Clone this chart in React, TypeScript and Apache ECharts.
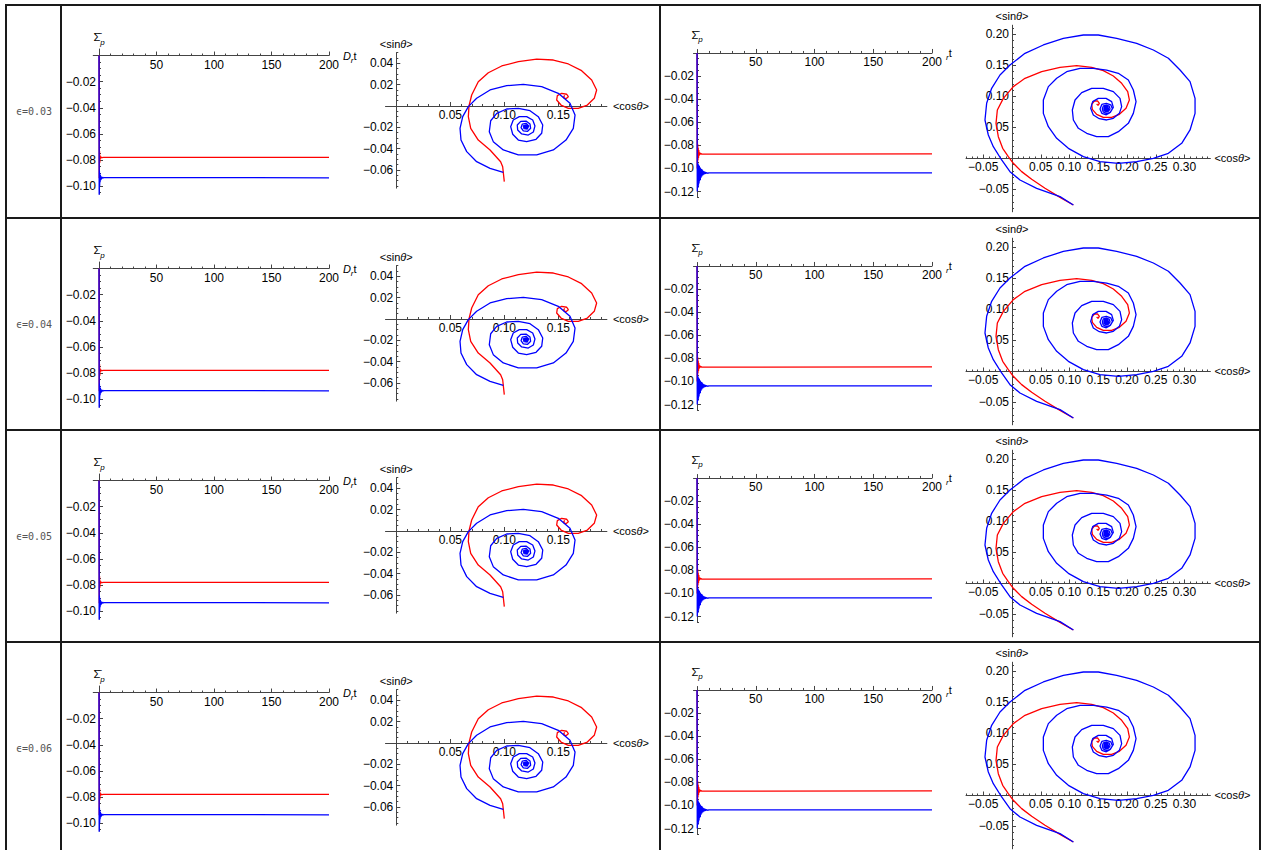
import React, { useEffect, useRef } from "react";
import * as echarts from "echarts";

// ---- Row labels ----
const epsilonLabels = ["ϵ=0.03", "ϵ=0.04", "ϵ=0.05", "ϵ=0.06"];

// ---- Tick labels ----
const timeTicks = [50, 100, 150, 200];
const leftSigmaTicks = [-0.02, -0.04, -0.06, -0.08, -0.1];
const rightSigmaTicks = [-0.02, -0.04, -0.06, -0.08, -0.1, -0.12];
const leftCosTicks = [0.05, 0.1, 0.15];
const leftSinTicks = [0.04, 0.02, -0.02, -0.04, -0.06];
const rightCosTicks = [-0.05, 0.05, 0.1, 0.15, 0.2, 0.25, 0.3];
const rightSinTicks = [0.2, 0.15, 0.1, 0.05, -0.05];

// ---- Time series: [D_r t, Σp] ----
const leftTimeRed = [[0, 0], [0.2, -0.094], [0.45, -0.073], [0.7, -0.082], [0.95, -0.0765], [1.3, -0.0788], [1.8, -0.0777], [2.5, -0.0782], [4, -0.078], [200, -0.078]];
const leftTimeBlue = [[0, 0], [0.15, -0.108], [0.35, -0.088], [0.55, -0.1], [0.75, -0.09], [0.95, -0.097], [1.2, -0.0915], [1.45, -0.0955], [1.7, -0.0925], [2, -0.0948], [2.3, -0.093], [2.7, -0.0942], [3.2, -0.0932], [3.8, -0.0938], [4.5, -0.0934], [200, -0.0936]];
const rightTimeRed = [[0, 0], [0.15, -0.1], [0.3, -0.075], [0.45, -0.096], [0.6, -0.079], [0.8, -0.093], [1, -0.082], [1.25, -0.091], [1.5, -0.084], [1.8, -0.089], [2.2, -0.086], [2.6, -0.088], [3, -0.087], [4, -0.0876], [200, -0.0874]];
const rightTimeBlue = [[0, 0], [0.2, -0.12], [0.45, -0.095], [0.7, -0.117], [0.95, -0.096], [1.2, -0.115], [1.45, -0.097], [1.7, -0.113], [1.95, -0.098], [2.2, -0.111], [2.5, -0.099], [2.8, -0.11], [3.1, -0.1], [3.4, -0.108], [3.7, -0.1005], [4, -0.107], [4.4, -0.101], [4.8, -0.106], [5.2, -0.102], [5.6, -0.1055], [6, -0.1025], [6.5, -0.105], [7, -0.103], [7.5, -0.1045], [8, -0.1035], [9, -0.1042], [10, -0.1038], [200, -0.1039]];

// ---- Phase portraits: [<cosθ>, <sinθ>] ----
const leftPhaseRed = [[0.1, -0.0709], [0.0985, -0.0569], [0.0966, -0.0522], [0.0868, -0.0412], [0.0759, -0.0319], [0.0689, -0.0209], [0.0667, -0.01], [0.0673, 0], [0.0698, 0.0103], [0.0759, 0.0228], [0.0852, 0.0312], [0.0976, 0.0375], [0.113, 0.0415], [0.13, 0.044], [0.1454, 0.0431], [0.1593, 0.0394], [0.1716, 0.0331], [0.1809, 0.0244], [0.1855, 0.015], [0.1833, 0.0072], [0.1769, 0.0009], [0.1685, -0.0022], [0.1593, -0.0022], [0.1525, 0.0009], [0.1485, 0.0056], [0.1491, 0.0097], [0.1531, 0.0119], [0.1578, 0.011], [0.1593, 0.0087], [0.1571, 0.0068], [0.1547, 0.0081], [0.1559, 0.01]];
const leftPhaseBlue = [[0.0991, -0.0622], [0.0868, -0.0584], [0.0744, -0.0522], [0.0652, -0.0428], [0.0599, -0.0319], [0.059, -0.0209], [0.0615, -0.01], [0.0667, -0.0006], [0.0744, 0.0072], [0.0868, 0.015], [0.1022, 0.019], [0.1176, 0.0203], [0.1346, 0.0181], [0.15, 0.0119], [0.1608, 0.0025], [0.1655, -0.0084], [0.1639, -0.0209], [0.1571, -0.0319], [0.1454, -0.0412], [0.13, -0.0459], [0.113, -0.0459], [0.0991, -0.0412], [0.0898, -0.0334], [0.0861, -0.0241], [0.0874, -0.0138], [0.093, -0.0069], [0.1022, -0.0028], [0.113, -0.0022], [0.1238, -0.0044], [0.1315, -0.01], [0.1356, -0.0178], [0.1346, -0.0256], [0.1294, -0.0312], [0.1207, -0.0334], [0.113, -0.0319], [0.1078, -0.0265], [0.1059, -0.0194], [0.1083, -0.0131], [0.1139, -0.01], [0.1207, -0.01], [0.1263, -0.0131], [0.1284, -0.0187], [0.1269, -0.0244], [0.1222, -0.0272], [0.1161, -0.0262], [0.1124, -0.0225], [0.112, -0.0178], [0.1152, -0.0144], [0.1201, -0.0141], [0.1238, -0.0169], [0.1244, -0.0209], [0.1216, -0.0237], [0.1176, -0.0234], [0.1155, -0.0203], [0.1167, -0.0169], [0.1201, -0.0162], [0.1226, -0.0187], [0.1213, -0.0216], [0.1183, -0.0213], [0.1176, -0.0187], [0.1198, -0.0178], [0.121, -0.0194], [0.1195, -0.02], [0.1198, -0.0188], [0.1212, -0.0182], [0.1218, -0.0194], [0.121, -0.0205], [0.1198, -0.0207], [0.1188, -0.0197], [0.1192, -0.0185], [0.1203, -0.0183], [0.1211, -0.0191], [0.1206, -0.02], [0.1196, -0.0198], [0.1195, -0.019], [0.1203, -0.0188], [0.1205, -0.0193], [0.12, -0.0195]];
const rightPhaseRed = [[0.1067, -0.075], [0.0835, -0.0627], [0.0574, -0.0481], [0.0342, -0.0336], [0.0168, -0.0212], [0.0023, -0.0078], [-0.0064, 0.003], [-0.0162, 0.0164], [-0.0238, 0.0352], [-0.0278, 0.0567], [-0.0255, 0.0782], [-0.0151, 0.097], [0.0023, 0.1159], [0.0226, 0.1293], [0.0516, 0.14], [0.0835, 0.147], [0.1125, 0.1497], [0.1386, 0.147], [0.1588, 0.1417], [0.1762, 0.1331], [0.1907, 0.1212], [0.2012, 0.1078], [0.2041, 0.0944], [0.1983, 0.0809], [0.1867, 0.0712], [0.1733, 0.0664], [0.1588, 0.0664], [0.1472, 0.0712], [0.1397, 0.0793], [0.1386, 0.0874], [0.1432, 0.0927], [0.149, 0.0927], [0.1519, 0.089], [0.1496, 0.0857], [0.1472, 0.0879]];
const rightPhaseBlue = [[0.1067, -0.075], [0.0835, -0.0616], [0.0429, -0.0481], [0.0139, -0.0347], [-0.0035, -0.0212], [-0.018, -0.0024], [-0.0325, 0.0191], [-0.0412, 0.0379], [-0.047, 0.0621], [-0.0441, 0.089], [-0.0354, 0.1132], [-0.0209, 0.1347], [-0.0035, 0.1508], [0.0226, 0.1696], [0.0545, 0.1831], [0.0893, 0.1938], [0.1241, 0.1992], [0.1501, 0.1992], [0.182, 0.1938], [0.2168, 0.1858], [0.2458, 0.175], [0.2719, 0.1616], [0.2922, 0.1427], [0.3096, 0.1239], [0.3183, 0.097], [0.3183, 0.0728], [0.3096, 0.046], [0.2951, 0.0245], [0.2719, 0.0083], [0.2458, 0.0003], [0.2168, -0.0051], [0.1849, -0.0078], [0.153, -0.0051], [0.1241, 0.003], [0.098, 0.0164], [0.0777, 0.0325], [0.0632, 0.0513], [0.0545, 0.0728], [0.0545, 0.0944], [0.0632, 0.1159], [0.0777, 0.1293], [0.0951, 0.14], [0.1183, 0.1454], [0.1414, 0.1454], [0.1646, 0.1427], [0.1849, 0.1374], [0.2023, 0.1266], [0.211, 0.1105], [0.2157, 0.0917], [0.211, 0.0728], [0.2023, 0.0567], [0.1849, 0.0433], [0.1675, 0.0352], [0.1472, 0.0352], [0.1299, 0.0406], [0.1154, 0.0487], [0.1067, 0.0621], [0.1049, 0.0782], [0.1096, 0.0944], [0.1212, 0.1062], [0.1386, 0.1132], [0.1588, 0.1132], [0.1762, 0.1078], [0.1878, 0.097], [0.1907, 0.0836], [0.1867, 0.0728], [0.1762, 0.0648], [0.1646, 0.0621], [0.1519, 0.0642], [0.1414, 0.0702], [0.1368, 0.0809], [0.1403, 0.0917], [0.1501, 0.097], [0.1635, 0.097], [0.1733, 0.0917], [0.1762, 0.0825], [0.1704, 0.0739], [0.164, 0.0705], [0.1562, 0.0729], [0.153, 0.08], [0.1562, 0.0871], [0.164, 0.089], [0.1718, 0.0866], [0.1745, 0.08], [0.1712, 0.0745], [0.164, 0.0725], [0.1585, 0.0752], [0.157, 0.08], [0.159, 0.085], [0.164, 0.0862], [0.169, 0.0845], [0.1705, 0.08], [0.168, 0.0765], [0.164, 0.0752], [0.1605, 0.077], [0.1597, 0.08], [0.161, 0.0832], [0.164, 0.0842], [0.1668, 0.0828], [0.168, 0.08], [0.1665, 0.0775], [0.164, 0.0768], [0.1618, 0.078], [0.1612, 0.08], [0.1625, 0.0822], [0.164, 0.0826], [0.1657, 0.0815], [0.1662, 0.08], [0.165, 0.0784], [0.164, 0.0781], [0.1628, 0.0788], [0.1625, 0.0803], [0.1635, 0.0814], [0.1648, 0.0812], [0.1652, 0.0798], [0.164, 0.079], [0.1633, 0.0798], [0.164, 0.0806], [0.1644, 0.08]];

// ---- Layout ----
const rowTops = [5, 218, 430, 642];
const RED = "#ff0000";
const BLUE = "#0000ff";
const AXIS = "#444444";
const FONT = "Liberation Sans";

function minorTicks(from: number, to: number, step: number, majors: number[]) {
  const out: number[] = [];
  const n = Math.round((to - from) / step);
  for (let i = 0; i <= n; i++) {
    const v = Math.round((from + i * step) * 10000) / 10000;
    if (Math.abs(v) < 1e-9) continue;
    if (majors.some((m) => Math.abs(m - v) < 1e-9)) continue;
    out.push(v);
  }
  return out;
}

const rich = {
  n: { fontFamily: FONT, fontSize: 11, color: "#000", lineHeight: 18, verticalAlign: "middle" },
  i: { fontFamily: FONT, fontSize: 11, fontStyle: "italic", color: "#000", lineHeight: 18, verticalAlign: "middle" },
  s: { fontFamily: FONT, fontSize: 8, fontStyle: "italic", color: "#000", lineHeight: 18, verticalAlign: "bottom" },
};

function fmt(dec: number) {
  return (v: number) => {
    const s = Math.abs(v).toFixed(dec);
    return v < -1e-12 ? "−" + s : s;
  };
}

type Panel = {
  left: number; width: number; top: number; height: number;
  xMin: number; xMax: number; yMin: number; yMax: number;
  xMajor: number[]; xMinor: number[]; yMajor: number[]; yMinor: number[];
  xDec: number; yDec: number;
  xName: string; yName: string; xGap: number; yGap: number;
  red: number[][]; blue: number[][];
};

const panels: Panel[] = [
  {
    left: 93.25, width: 235.75, top: 44, height: 145,
    xMin: -5, xMax: 200, yMin: -0.106, yMax: 0.005,
    xMajor: timeTicks, xMinor: minorTicks(0, 200, 10, timeTicks),
    yMajor: leftSigmaTicks, yMinor: minorTicks(-0.105, 0, 0.005, leftSigmaTicks),
    xDec: 0, yDec: 2,
    xName: "{i|D}{s|r}{n|t}", yName: "{n|Σ̄}{s|p}", xGap: 6, yGap: 3,
    red: leftTimeRed, blue: leftTimeBlue,
  },
  {
    left: 385.5, width: 221.4, top: 47.65, height: 135.5,
    xMin: -0.01, xMax: 0.195, yMin: -0.077, yMax: 0.05,
    xMajor: leftCosTicks, xMinor: minorTicks(0, 0.19, 0.01, leftCosTicks),
    yMajor: leftSinTicks, yMinor: minorTicks(-0.075, 0.05, 0.005, leftSinTicks),
    xDec: 2, yDec: 2,
    xName: "{n|<cos}{i|θ}{n|>}", yName: "{n|<sin}{i|θ}{n|>}", xGap: 6, yGap: 0,
    red: leftPhaseRed, blue: leftPhaseBlue,
  },
  {
    left: 693.5, width: 238.5, top: 44.5, height: 147.8,
    xMin: -3, xMax: 200, yMin: -0.125, yMax: 0.003,
    xMajor: timeTicks, xMinor: minorTicks(0, 200, 10, timeTicks),
    yMajor: rightSigmaTicks, yMinor: minorTicks(-0.125, 0, 0.005, rightSigmaTicks),
    xDec: 0, yDec: 2,
    xName: "{s|r}{n|t}", yName: "{n|Σ̄}{s|p}", xGap: 14, yGap: 6,
    red: rightTimeRed, blue: rightTimeBlue,
  },
  {
    left: 966, width: 244.4, top: 20.2, height: 186.6,
    xMin: -0.08, xMax: 0.345, yMin: -0.086, yMax: 0.215,
    xMajor: rightCosTicks, xMinor: minorTicks(-0.08, 0.34, 0.01, rightCosTicks),
    yMajor: rightSinTicks, yMinor: minorTicks(-0.08, 0.21, 0.01, rightSinTicks),
    xDec: 2, yDec: 2,
    xName: "{n|<cos}{i|θ}{n|>}", yName: "{n|<sin}{i|θ}{n|>}", xGap: 4, yGap: 0,
    red: rightPhaseRed, blue: rightPhaseBlue,
  },
];

function buildOption() {
  const grid: any[] = [];
  const xAxis: any[] = [];
  const yAxis: any[] = [];
  const series: any[] = [];
  rowTops.forEach((T) => {
    panels.forEach((p) => {
      const g = grid.length;
      const mainIdx = 2 * g;
      grid.push({ left: p.left, top: T + p.top, width: p.width, height: p.height });
      // axes cross at 0: move the bottom/left axes to the zero line with an offset
      const xOffset = -(p.height * (0 - p.yMin)) / (p.yMax - p.yMin);
      const yOffset = -(p.width * (0 - p.xMin)) / (p.xMax - p.xMin);
      const tickStyle = { color: AXIS, width: 1 };
      const labelStyle = { fontFamily: FONT, fontSize: 12, color: "#000", margin: 3 };
      xAxis.push({
        type: "value", gridIndex: g, position: "bottom", offset: xOffset, min: p.xMin, max: p.xMax,
        axisLine: { show: true, onZero: false, lineStyle: { color: AXIS, width: 1 } },
        axisTick: { show: true, inside: true, length: 4, customValues: p.xMajor, lineStyle: tickStyle },
        axisLabel: { show: true, customValues: p.xMajor, formatter: fmt(p.xDec), ...labelStyle },
        splitLine: { show: false },
        name: p.xName, nameLocation: "end", nameGap: p.xGap, nameTextStyle: { rich },
      });
      xAxis.push({
        type: "value", gridIndex: g, position: "bottom", offset: xOffset, min: p.xMin, max: p.xMax,
        axisLine: { show: false, onZero: false },
        axisTick: { show: true, inside: true, length: 2, customValues: p.xMinor, lineStyle: tickStyle },
        axisLabel: { show: false },
        splitLine: { show: false },
      });
      yAxis.push({
        type: "value", gridIndex: g, position: "left", offset: yOffset, min: p.yMin, max: p.yMax,
        axisLine: { show: true, onZero: false, lineStyle: { color: AXIS, width: 1 } },
        axisTick: { show: true, inside: true, length: 4, customValues: p.yMajor, lineStyle: tickStyle },
        axisLabel: { show: true, customValues: p.yMajor, formatter: fmt(p.yDec), ...labelStyle },
        splitLine: { show: false },
        name: p.yName, nameLocation: "end", nameGap: p.yGap, nameTextStyle: { rich },
      });
      yAxis.push({
        type: "value", gridIndex: g, position: "left", offset: yOffset, min: p.yMin, max: p.yMax,
        axisLine: { show: false, onZero: false },
        axisTick: { show: true, inside: true, length: 2, customValues: p.yMinor, lineStyle: tickStyle },
        axisLabel: { show: false },
        splitLine: { show: false },
      });
      series.push({
        type: "line", xAxisIndex: mainIdx, yAxisIndex: mainIdx, data: p.red,
        showSymbol: false, symbol: "none", silent: true, z: 3,
        lineStyle: { color: RED, width: 1.3 }, itemStyle: { color: RED },
      });
      series.push({
        type: "line", xAxisIndex: mainIdx, yAxisIndex: mainIdx, data: p.blue,
        showSymbol: false, symbol: "none", silent: true, z: 4,
        lineStyle: { color: BLUE, width: 1.3 }, itemStyle: { color: BLUE },
      });
    });
  });

  const lineStyle = { stroke: "#1a1a1a", lineWidth: 2 };
  const graphic: any[] = [
    { type: "line", shape: { x1: 6, y1: 5, x2: 1260, y2: 5 }, style: lineStyle },
    { type: "line", shape: { x1: 6, y1: 4, x2: 6, y2: 850 }, style: lineStyle },
    { type: "line", shape: { x1: 1260, y1: 4, x2: 1260, y2: 850 }, style: lineStyle },
    { type: "line", shape: { x1: 61, y1: 4, x2: 61, y2: 850 }, style: lineStyle },
    { type: "line", shape: { x1: 660, y1: 4, x2: 660, y2: 850 }, style: lineStyle },
  ];
  rowTops.slice(1).forEach((y) => {
    graphic.push({ type: "line", shape: { x1: 6, y1: y, x2: 1260, y2: y }, style: lineStyle });
  });
  epsilonLabels.forEach((t, i) => {
    graphic.push({
      type: "text", x: 34, y: rowTops[i] + 106,
      style: { text: t, fill: "#555", font: '10px "DejaVu Sans Mono"', textAlign: "center", textVerticalAlign: "middle" },
    });
  });

  return { animation: false, backgroundColor: "#ffffff", grid, xAxis, yAxis, series, graphic };
}

export default function App() {
  const ref = useRef<HTMLDivElement>(null);
  useEffect(() => {
    document.body.style.margin = "0";
    if (!ref.current) return;
    const chart = echarts.init(ref.current, undefined, { renderer: "svg" });
    chart.setOption(buildOption() as any);
    return () => chart.dispose();
  }, []);
  return <div ref={ref} style={{ width: 1266, height: 850 }} />;
}
